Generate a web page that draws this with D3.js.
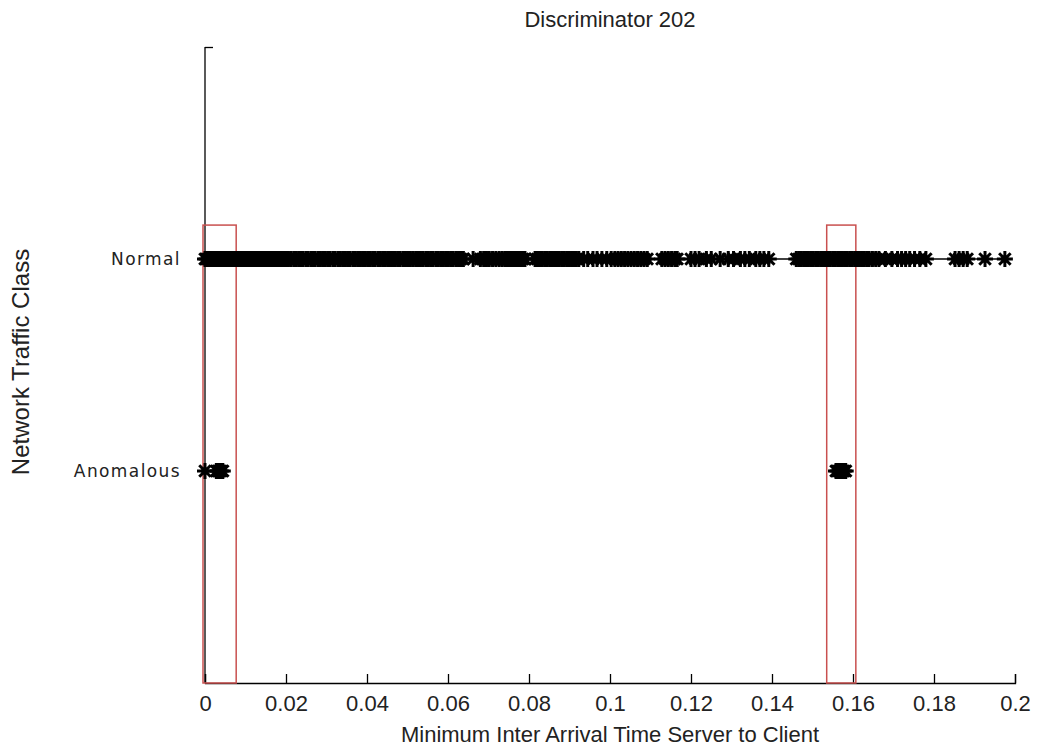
<!DOCTYPE html>
<html>
<head>
<meta charset="utf-8">
<script src="https://cdn.jsdelivr.net/npm/d3@7"></script>
<style>
  body { margin: 0; background: #fff; }
  text { fill: #222; }
</style>
</head>
<body>
<div id="chart"></div>
<script>
// values
var classes = ["Anomalous", "Normal"]
var xTicks = [0, 0.02, 0.04, 0.06, 0.08, 0.1, 0.12, 0.14, 0.16, 0.18, 0.2]
var xTickLabels = ["0", "0.02", "0.04", "0.06", "0.08", "0.1", "0.12", "0.14", "0.16", "0.18", "0.2"]

var normalX = [
  0, 0.0004, 0.0009, 0.0013, 0.0018, 0.0022, 0.0027, 0.0031, 0.0036, 0.0041, 0.0045, 0.0050,
  0.0054, 0.0059, 0.0063, 0.0068, 0.0072, 0.0077, 0.0082, 0.0086, 0.0091, 0.0095, 0.0100,
  0.0105, 0.0109, 0.0114, 0.0118, 0.0123, 0.0127, 0.0132, 0.0137, 0.0141, 0.0146, 0.0150,
  0.0155, 0.0160, 0.0164, 0.0169, 0.0173, 0.0178, 0.0183, 0.0187, 0.0192, 0.0196, 0.0201,
  0.0206, 0.0212, 0.0219, 0.0224, 0.0231, 0.0236, 0.0242, 0.0249, 0.0254, 0.0261, 0.0267,
  0.0272, 0.0279, 0.0285, 0.0291, 0.0297, 0.0303, 0.0309, 0.0316, 0.0321, 0.0328, 0.0334,
  0.0340, 0.0346, 0.0352, 0.0358, 0.0365, 0.0371, 0.0377, 0.0383, 0.0389, 0.0396, 0.0402,
  0.0408, 0.0414, 0.0420, 0.0427, 0.0433, 0.0439, 0.0445, 0.0451, 0.0458, 0.0464, 0.0470,
  0.0476, 0.0482, 0.0489, 0.0495, 0.0501, 0.0507, 0.0513, 0.0520, 0.0526, 0.0532, 0.0538,
  0.0545, 0.0551, 0.0557, 0.0563, 0.0570, 0.0576, 0.0582, 0.0588, 0.0594, 0.0601, 0.0607,
  0.0613, 0.0620, 0.0626, 0.0632, 0.0638,
  0.0662, 0.0680, 0.0688, 0.0695, 0.0702, 0.0710, 0.0718, 0.0726, 0.0733, 0.0740,
  0.0745, 0.0750, 0.0755, 0.0760, 0.0765, 0.0770, 0.0775, 0.0780, 0.0785, 0.0790,
  0.0815, 0.0821, 0.0827, 0.0833, 0.0839, 0.0845, 0.0851, 0.0857, 0.0863, 0.0869, 0.0875,
  0.0881, 0.0887, 0.0893, 0.0899, 0.0905, 0.0911, 0.0917, 0.0923,
  0.0935, 0.0945, 0.0958, 0.0968, 0.0980, 0.0992, 0.1003, 0.1012, 0.1020, 0.1028, 0.1036,
  0.1044, 0.1052, 0.1060, 0.1068, 0.1076, 0.1084, 0.1092,
  0.1128, 0.1136, 0.1144, 0.1152, 0.1160, 0.1166,
  0.1200, 0.1210, 0.1220, 0.1238, 0.1250, 0.1272, 0.1292, 0.1305, 0.1322, 0.1333, 0.1344,
  0.1360, 0.1370, 0.1380, 0.1392,
  0.1460, 0.1466, 0.1472, 0.1478, 0.1484, 0.1490, 0.1496, 0.1502, 0.1508, 0.1514, 0.1520,
  0.1526, 0.1532, 0.1538, 0.1544, 0.1550, 0.1556, 0.1562, 0.1568, 0.1574, 0.1580, 0.1586,
  0.1592, 0.1598, 0.1604, 0.1610, 0.1616, 0.1622, 0.1628, 0.1634, 0.1640, 0.1648, 0.1656,
  0.1664,
  0.1680, 0.1696, 0.1710, 0.1720, 0.1730, 0.1740, 0.1752, 0.1765, 0.1780,
  0.1852, 0.1862, 0.1872, 0.1882, 0.1926, 0.1975
]
// anomalous points come in two separate groups (no line between them)
var anomalousLowX = [0, 0.0028, 0.0032, 0.0036, 0.0040, 0.0044]
var anomalousHighX = [0.1558, 0.1562, 0.1566, 0.1570, 0.1574, 0.1578, 0.1582]

// highlighted ranges (red boxes)
var boxRanges = [[0, 0.0077], [0.1540, 0.1607]]
var boxTop = 2.16

const width = 1038
const height = 753
const margin = { left: 205, right: 23, top: 47, bottom: 70 }

const svg = d3.select("#chart").append("svg")
  .attr("width", width)
  .attr("height", height)

var x = d3.scaleLinear().domain([0, 0.2]).range([margin.left, width - margin.right])
var y = d3.scaleLinear().domain([0, 3]).range([height - margin.bottom, margin.top])

// axes
var xAxis = d3.axisBottom(x)
  .tickValues(xTicks)
  .tickSize(-9)
  .tickPadding(12)
  .tickFormat(function(d, i) { return xTickLabels[i] })

var gx = svg.append("g")
  .attr("transform", "translate(0," + y(0) + ")")
  .call(xAxis)
gx.select(".domain").attr("stroke", "#000").attr("stroke-width", 1.3)
gx.selectAll(".tick line").attr("stroke", "#000").attr("stroke-width", 1.3)
gx.selectAll(".tick text")
  .attr("font-family", "Liberation Sans, Arial, sans-serif")
  .attr("font-size", 22)
  .attr("fill", "#222")

var yAxis = d3.axisLeft(y)
  .tickValues([1, 2, 3])
  .tickSize(-8)
  .tickPadding(24)
  .tickFormat(function(d) { return d <= 2 ? classes[d - 1] : "" })

var gy = svg.append("g")
  .attr("transform", "translate(" + x(0) + ",0)")
  .call(yAxis)
gy.select(".domain").attr("stroke", "#000").attr("stroke-width", 1.3)
  .attr("d", "M0," + y(3) + "V" + y(0))
gy.selectAll(".tick line").attr("stroke", "#000").attr("stroke-width", 1.3)
gy.selectAll(".tick text")
  .attr("font-family", "DejaVu Sans, Verdana, sans-serif")
  .attr("font-size", 17)
  .attr("letter-spacing", 1.4)
  .attr("fill", "#333")

// red boxes
svg.selectAll("rect.box")
  .data(boxRanges)
  .enter()
  .append("rect")
  .attr("class", "box")
  .attr("x", function(d) { return x(d[0]) - 2 })
  .attr("y", y(boxTop))
  .attr("width", function(d) { return x(d[1]) - x(d[0]) + 2 })
  .attr("height", y(0) - y(boxTop))
  .attr("fill", "none")
  .attr("stroke", "#c9504f")
  .attr("stroke-width", 1.5)

// series: line + star markers
var series = [
  { cls: 2, xs: normalX },
  { cls: 1, xs: anomalousLowX },
  { cls: 1, xs: anomalousHighX }
]

function starPath(r) {
  var d = r * 0.72
  return "M" + (-r) + ",0H" + r + "M0," + (-r) + "V" + r +
    "M" + (-d) + "," + (-d) + "L" + d + "," + d +
    "M" + (-d) + "," + d + "L" + d + "," + (-d)
}

var line = d3.line()
  .x(function(d) { return x(d) })

series.forEach(function(s) {
  var cy = y(s.cls)
  svg.append("path")
    .datum(s.xs)
    .attr("d", line.y(cy))
    .attr("fill", "none")
    .attr("stroke", "#000")
    .attr("stroke-width", 1.4)

  svg.append("g").selectAll("path")
    .data(s.xs)
    .enter()
    .append("path")
    .attr("transform", function(d) { return "translate(" + x(d) + "," + cy + ")" })
    .attr("d", starPath(8))
    .attr("stroke", "#000")
    .attr("stroke-width", 3)
    .attr("fill", "none")
})

// title and labels
svg.append("text")
  .attr("x", (x(0) + x(0.2)) / 2)
  .attr("y", 27)
  .attr("text-anchor", "middle")
  .attr("font-family", "Liberation Sans, Arial, sans-serif")
  .attr("font-size", 22)
  .text("Discriminator 202")

svg.append("text")
  .attr("x", (x(0) + x(0.2)) / 2)
  .attr("y", 742)
  .attr("text-anchor", "middle")
  .attr("font-family", "Liberation Sans, Arial, sans-serif")
  .attr("font-size", 22)
  .text("Minimum Inter Arrival Time Server to Client")

svg.append("text")
  .attr("transform", "translate(29," + 362 + ") rotate(-90)")
  .attr("text-anchor", "middle")
  .attr("font-family", "Liberation Sans, Arial, sans-serif")
  .attr("font-size", 24)
  .text("Network Traffic Class")
</script>
</body>
</html>
